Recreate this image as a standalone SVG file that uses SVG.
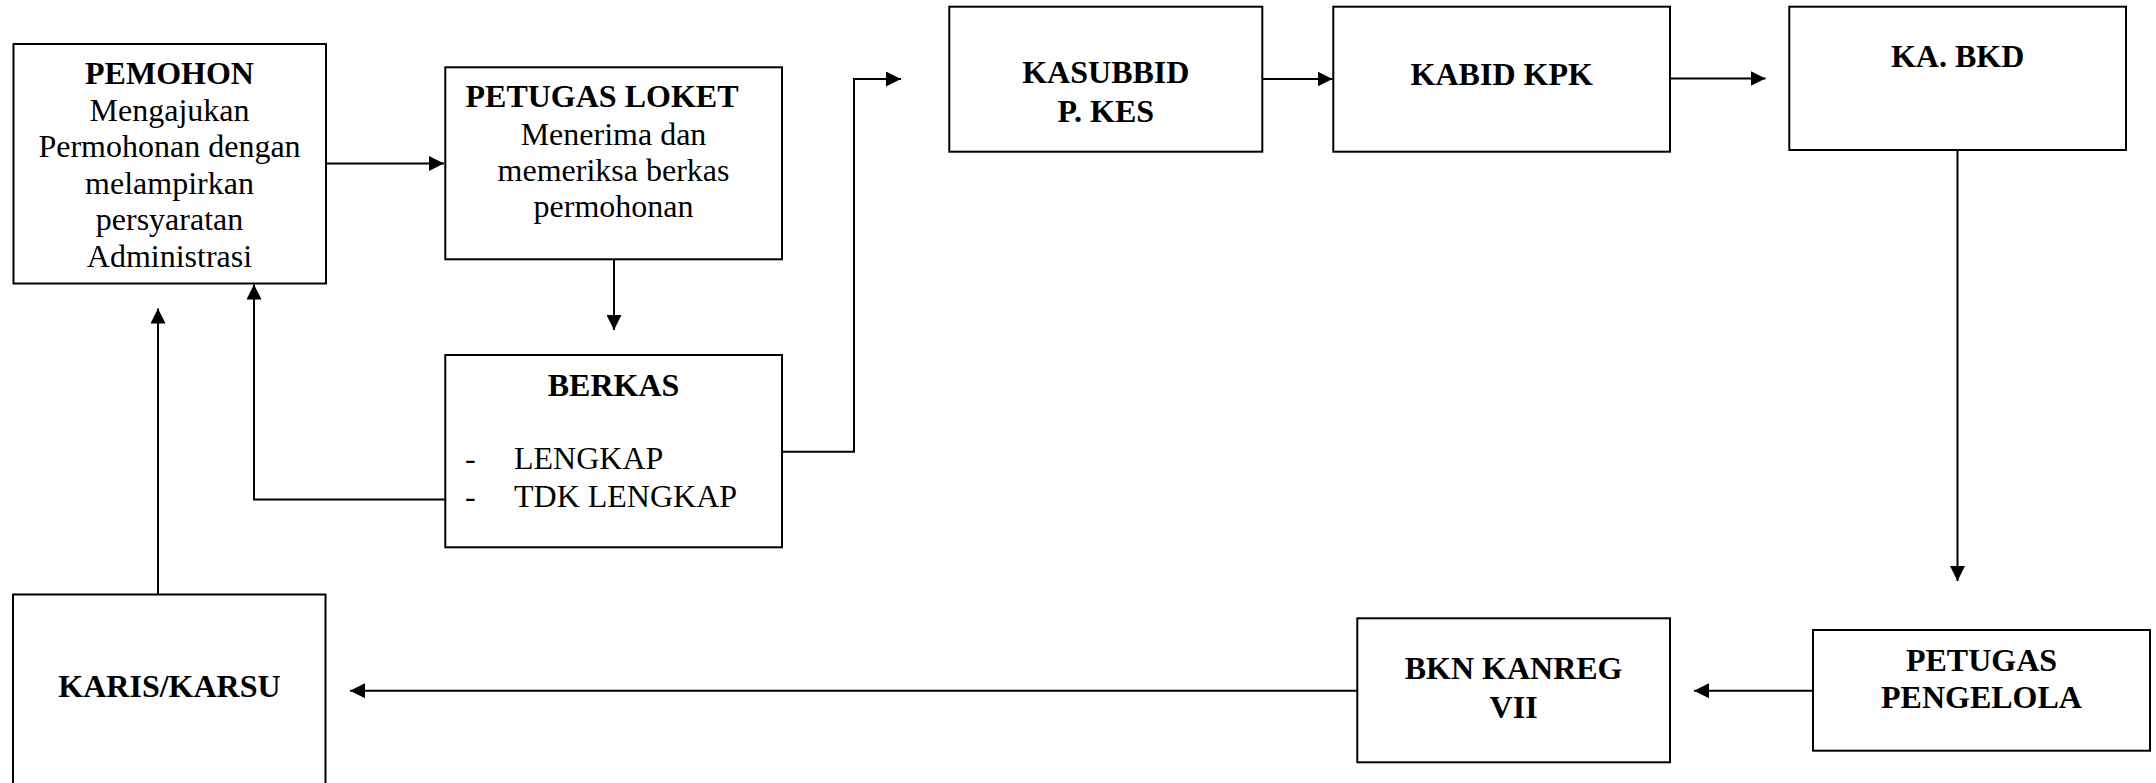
<svg xmlns="http://www.w3.org/2000/svg" width="2156" height="783" viewBox="0 0 2156 783">
<style>
.box{fill:#fff;stroke:#000;stroke-width:2}
.t{font-family:"Liberation Serif","Times New Roman",serif;font-size:32px;fill:#000;text-anchor:middle}
.b{font-weight:bold}
.l{text-anchor:start}
.c{fill:none;stroke:#000;stroke-width:2}
</style>
<defs>
<marker id="ah" viewBox="0 0 15 15" refX="15" refY="7.5" markerWidth="15" markerHeight="15" markerUnits="userSpaceOnUse" orient="auto">
<path d="M0,0 L15,7.5 L0,15 z" fill="#000"/>
</marker>
</defs>
<rect width="2156" height="783" fill="#fff"/>
<g id="connectors">
<path class="c" d="M326,163.5 H444" marker-end="url(#ah)"/>
<path class="c" d="M614,259 V330" marker-end="url(#ah)"/>
<path class="c" d="M445,499.5 H254 V284.5" marker-end="url(#ah)"/>
<path class="c" d="M158,594.5 V308.5" marker-end="url(#ah)"/>
<path class="c" d="M782,451.7 H854 V79 H901" marker-end="url(#ah)"/>
<path class="c" d="M1262,79 H1332.5" marker-end="url(#ah)"/>
<path class="c" d="M1670,78.5 H1765.5" marker-end="url(#ah)"/>
<path class="c" d="M1957.5,150 V581" marker-end="url(#ah)"/>
<path class="c" d="M1813,690.7 H1694" marker-end="url(#ah)"/>
<path class="c" d="M1357,690.7 H350" marker-end="url(#ah)"/>
</g>
<g id="pemohon">
<rect class="box" x="13.5" y="44" width="312.5" height="239.5"/>
<text class="t b" x="169.5" y="84">PEMOHON</text>
<text class="t" x="169.5" y="120.7">Mengajukan</text>
<text class="t" x="169.5" y="157">Permohonan dengan</text>
<text class="t" x="169.5" y="193.5">melampirkan</text>
<text class="t" x="169.5" y="230">persyaratan</text>
<text class="t" x="169.5" y="267">Administrasi</text>
</g>
<g id="petugas-loket">
<rect class="box" x="445.3" y="67.3" width="336.7" height="192"/>
<text class="t b" x="602" y="107.3">PETUGAS LOKET</text>
<text class="t" x="613.5" y="145">Menerima dan</text>
<text class="t" x="613.5" y="181">memeriksa berkas</text>
<text class="t" x="613.5" y="217">permohonan</text>
</g>
<g id="berkas">
<rect class="box" x="445.3" y="355" width="336.7" height="192.3"/>
<text class="t b" x="613.5" y="395.7">BERKAS</text>
<text class="t l" x="465" y="469.3">-</text>
<text class="t l" x="514" y="469.3">LENGKAP</text>
<text class="t l" x="465" y="506.7">-</text>
<text class="t l" x="514" y="506.7">TDK LENGKAP</text>
</g>
<g id="karis-karsu">
<rect class="box" x="13" y="594.5" width="312.5" height="220"/>
<text class="t b" x="169.5" y="696.7">KARIS/KARSU</text>
</g>
<g id="kasubbid">
<rect class="box" x="949.3" y="6.7" width="313" height="145"/>
<text class="t b" x="1105.8" y="83.3">KASUBBID</text>
<text class="t b" x="1105.8" y="121.7">P. KES</text>
</g>
<g id="kabid-kpk">
<rect class="box" x="1333.3" y="6.7" width="336.7" height="145"/>
<text class="t b" x="1501.7" y="85">KABID KPK</text>
</g>
<g id="ka-bkd">
<rect class="box" x="1789.3" y="6.7" width="336.7" height="143.3"/>
<text class="t b" x="1957.6" y="67.3">KA. BKD</text>
</g>
<g id="petugas-pengelola">
<rect class="box" x="1813" y="630" width="337" height="120.7"/>
<text class="t b" x="1981.5" y="670.7">PETUGAS</text>
<text class="t b" x="1981.5" y="708.3">PENGELOLA</text>
</g>
<g id="bkn-kanreg">
<rect class="box" x="1357.3" y="618.3" width="312.7" height="144"/>
<text class="t b" x="1513.6" y="679">BKN KANREG</text>
<text class="t b" x="1513.6" y="717.7">VII</text>
</g>
</svg>
